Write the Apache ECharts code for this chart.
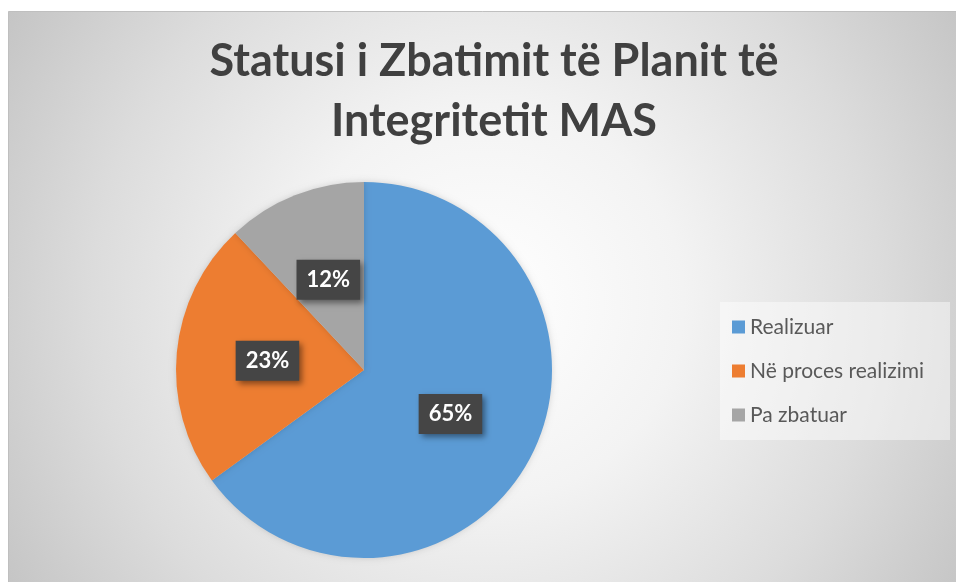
<!DOCTYPE html>
<html style="height: 100%">
<head>
	<meta charset="utf-8">
</head>
<body style="height: 100%; margin: 0; background: #fff">
<div id="container" style="height: 100%"></div>
<script type="text/javascript" src="https://cdn.jsdelivr.net/npm/echarts@6/dist/echarts.min.js"></script>
<script type="text/javascript">
    var categories = ['Realizuar', 'Në proces realizimi', 'Pa zbatuar'];
    var values = [65, 23, 12];
    var colors = ['#5b9bd5', '#ed7d31', '#a5a5a5'];
    var titleText = 'Statusi i Zbatimit të Planit të\nIntegritetit MAS';

    var dom = document.getElementById("container");
    var myChart = echarts.init(dom);

    var data = [];
    for (var i = 0; i < categories.length; i++) {
        data.push({ name: categories[i], value: values[i] });
    }

    var option = {
        color: colors,
        graphic: [{
            type: 'rect',
            z: -10,
            silent: true,
            shape: { x: 8.5, y: 11.5, width: 956, height: 580 },
            style: {
                fill: {
                    type: 'radial', x: 0.5, y: 0.5, r: 0.97,
                    colorStops: [
                        { offset: 0, color: '#ffffff' },
                        { offset: 0.35, color: '#f3f3f3' },
                        { offset: 0.7, color: '#dcdcdc' },
                        { offset: 1, color: '#c4c4c4' }
                    ]
                },
                stroke: '#bfbfbf',
                lineWidth: 1
            }
        }],
        title: {
            text: titleText,
            left: 489,
            textAlign: 'center',
            top: 26,
            textStyle: {
                fontFamily: 'Lato',
                fontWeight: 'bold',
                fontSize: 45,
                lineHeight: 60,
                color: '#404040'
            }
        },
        legend: {
            orient: 'vertical',
            left: 720,
            top: 302,
            data: categories,
            icon: 'rect',
            itemWidth: 13,
            itemHeight: 13,
            itemGap: 22,
            padding: [14, 26, 14, 12],
            backgroundColor: 'rgba(255,255,255,0.45)',
            textStyle: {
                fontFamily: 'Lato',
                fontSize: 21,
                lineHeight: 22,
                color: '#595959'
            }
        },
        series: [{
            type: 'pie',
            center: [364, 370],
            radius: 188,
            startAngle: 90,
            clockwise: true,
            data: data,
            itemStyle: {
                shadowBlur: 6,
                shadowColor: 'rgba(0,0,0,0.15)'
            },
            emphasis: { disabled: true },
            labelLine: { show: false },
            label: {
                show: true,
                position: 'inside',
                formatter: '{d}%',
                fontFamily: 'Lato',
                fontWeight: 'bold',
                fontSize: 22,
                lineHeight: 24,
                color: '#ffffff',
                backgroundColor: '#454545',
                padding: [8, 10],
                shadowBlur: 6,
                shadowOffsetX: 3,
                shadowOffsetY: 3,
                shadowColor: 'rgba(0,0,0,0.45)'
            }
        }]
    };

    myChart.setOption(option);
    window.addEventListener('resize', function () {
        myChart.resize();
    });
</script>
</body>
</html>
